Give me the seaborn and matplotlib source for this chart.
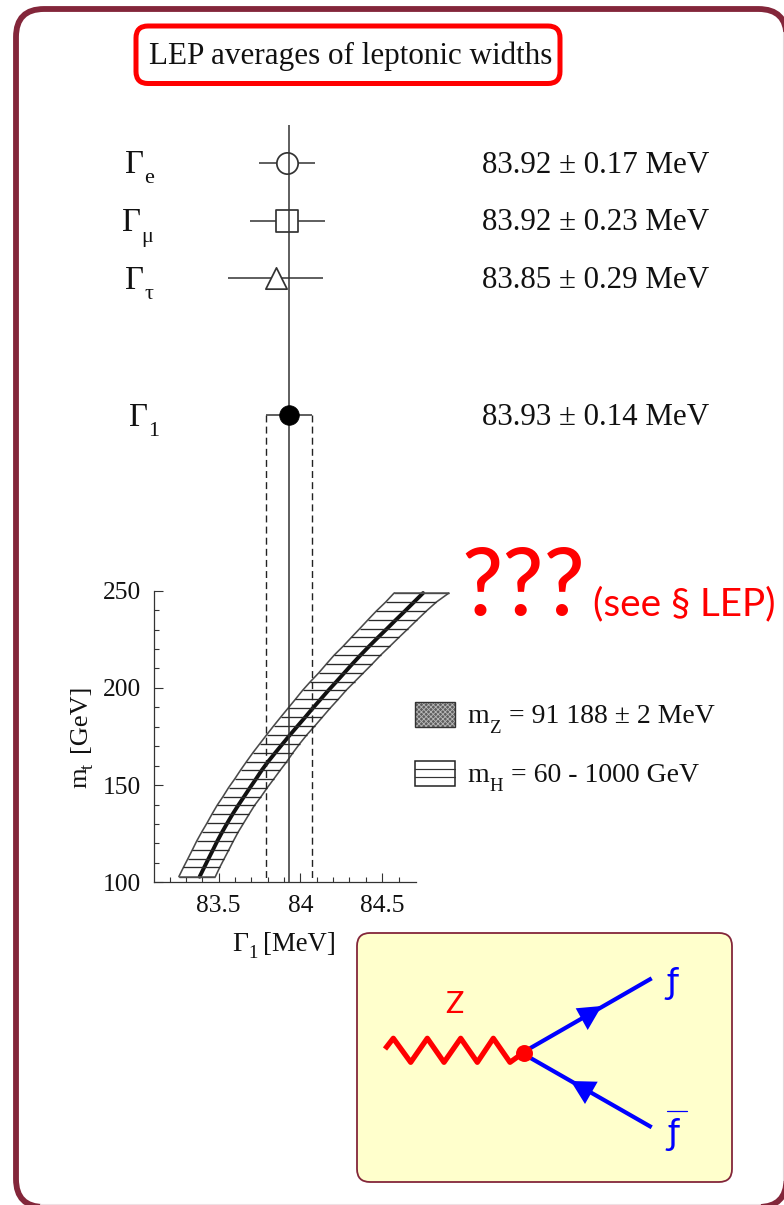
import numpy as np
import matplotlib
matplotlib.use("Agg")
import matplotlib.pyplot as plt
from matplotlib.patches import FancyBboxPatch, Rectangle, Polygon
import seaborn as sns

# measurements (upper panel)
widths_mean = [83.92, 83.92, 83.85, 83.93]
widths_err = [0.17, 0.23, 0.29, 0.14]
widths_text = ["83.92 ± 0.17 MeV", "83.92 ± 0.23 MeV", "83.85 ± 0.29 MeV", "83.93 ± 0.14 MeV"]
widths_sub = ["e", "μ", "τ", "1"]
row_pos = [0, 1, 2, 4.38]

# band: one rung per horizontal hatch line
mt_rungs = [248.8, 244.2, 239.6, 235.1, 230.5, 226.0, 221.4, 216.8, 212.1, 207.7, 203.2,
            198.8, 194.1, 189.5, 185.0, 180.4, 175.9, 171.3, 166.7, 162.0, 157.8, 153.1,
            148.7, 144.0, 139.6, 135.0, 130.3, 125.9, 121.2, 116.6, 112.1, 107.7, 102.9]
band_left = [84.573, 84.522, 84.465, 84.414, 84.363, 84.312, 84.261, 84.206, 84.157, 84.112, 84.061,
             84.014, 83.969, 83.924, 83.880, 83.836, 83.794, 83.752, 83.710, 83.670, 83.635, 83.598,
             83.561, 83.526, 83.491, 83.459, 83.428, 83.397, 83.366, 83.339, 83.312, 83.285, 83.257]
band_right = [84.908, 84.832, 84.771, 84.715, 84.659, 84.603, 84.547, 84.490, 84.437, 84.385, 84.332,
              84.280, 84.231, 84.181, 84.135, 84.088, 84.040, 83.996, 83.955, 83.916, 83.878, 83.837,
              83.798, 83.759, 83.720, 83.686, 83.652, 83.620, 83.590, 83.562, 83.534, 83.507, 83.480]
band_mid = [84.750, 84.695, 84.640, 84.585, 84.530, 84.475, 84.420, 84.367, 84.315, 84.268, 84.220,
            84.172, 84.123, 84.075, 84.030, 83.983, 83.937, 83.892, 83.847, 83.802, 83.765, 83.728,
            83.692, 83.655, 83.620, 83.585, 83.552, 83.522, 83.492, 83.465, 83.438, 83.412, 83.384]

x_major = [83.5, 84, 84.5]
x_major_labels = ["83.5", "84", "84.5"]
y_major = [100, 150, 200, 250]

# feynman diagram, in picture pixels
wiggle_x = [385, 393.3, 410.7, 427.3, 444, 460.7, 477.3, 493.3, 510, 523]
wiggle_y = [1049, 1038.3, 1062.3, 1038.3, 1062.3, 1038.3, 1062.3, 1038.3, 1062.3, 1053]
fermion_x = [530, 651.7]
fermion_up_y = [1048.3, 978.3]
fermion_down_y = [1057.7, 1127.3]
arrow_up = [(575.7, 1008.3), (601.7, 1006), (587.7, 1030)]
arrow_down = [(570.7, 1081), (597.7, 1081.7), (585, 1104)]

FRAME = "#83263A"
INK = "#111111"
SERIF = ["Liberation Serif", "DejaVu Serif"]
SANS = ["Lato", "DejaVu Sans"]

sns.set_style("ticks")
plt.rcParams["font.family"] = SERIF
plt.rcParams["hatch.linewidth"] = 0.6

W, H = 784, 1205
fig = plt.figure(figsize=(W / 100, H / 100), dpi=100)

# full figure axes in pixels for the decoration and free text
bg = fig.add_axes([0, 0, 1, 1], zorder=0)
bg.set_xlim(0, W)
bg.set_ylim(H, 0)
bg.axis("off")


def px_axes(left, top, right, bottom, zorder):
    a = fig.add_axes([left / W, 1 - bottom / H, (right - left) / W, (bottom - top) / H], zorder=zorder)
    a.patch.set_visible(False)
    return a


def label(x, y, s, size, **kw):
    kw.setdefault("color", INK)
    kw.setdefault("va", "baseline")
    bg.text(x, y, s, fontsize=size, **kw)


bg.add_patch(FancyBboxPatch((16, 9), 770.5, 1198, boxstyle="round,pad=0,rounding_size=28",
                            fc="white", ec=FRAME, lw=4.2))
bg.plot([783.5, 783.5], [32, 1180], color="#e6d6da", lw=0.8)
bg.plot([40, 760], [1204.4, 1204.4], color="#efe0e4", lw=0.8)

bg.add_patch(FancyBboxPatch((136, 26), 424, 57.5, boxstyle="round,pad=0,rounding_size=12",
                            fc="white", ec="#FF0000", lw=3.6))
label(149, 64, "LEP averages of leptonic widths", 22.45)

# upper panel shares the lower panel's x scale
xlim = (83.105, 84.705)
ax_top = px_axes(154, 125, 415.7, 882.3, 3)
ax_top.set_xlim(*xlim)
ax_top.set_ylim(12.51, -0.661)
ax_top.axis("off")

ax_top.axvline(widths_mean[3], color="#333333", lw=1.1, zorder=5)
ax_top.vlines([widths_mean[3] - widths_err[3], widths_mean[3] + widths_err[3]], row_pos[3], 12.51,
              color="#222222", lw=1.0, linestyles=(0, (5, 3)), zorder=2)
ax_top.hlines(row_pos, np.array(widths_mean) - np.array(widths_err), np.array(widths_mean) + np.array(widths_err),
              color="#333333", lw=1.1, zorder=2)

row_markers = ["o", "s", "^"]
for i, m in enumerate(row_markers):
    sns.scatterplot(x=[widths_mean[i]], y=[row_pos[i]], marker=m, s=235, color="white",
                    edgecolor="#333333", linewidth=1.25, ax=ax_top, zorder=3, clip_on=False)
sns.scatterplot(x=[widths_mean[3]], y=[row_pos[3]], marker="o", s=200, color="black",
                edgecolor="black", linewidth=0.5, ax=ax_top, zorder=6)
ax_top.axis("off")

name_pos = [(125.2, 172.7, 144.3, 182.7), (122.5, 231, 141.7, 241.7),
            (125.2, 289.3, 144.3, 299.3), (128.7, 425.7, 148.3, 436)]
text_base = [173, 230, 288, 425]
for (gx, gy, sx, sy), sub, txt, by in zip(name_pos, widths_sub, widths_text, text_base):
    label(gx, gy, "Γ", 23.5)
    label(sx, sy, sub, 16)
    label(482, by, txt, 22.3)

# lower panel
ax = px_axes(154, 590.7, 415.7, 882.3, 2)
sns.lineplot(x=band_left, y=mt_rungs, sort=False, estimator=None, color="#4a4a4a", lw=1.15, ax=ax, clip_on=False)
sns.lineplot(x=band_right, y=mt_rungs, sort=False, estimator=None, color="#4a4a4a", lw=1.15, ax=ax, clip_on=False)
sns.lineplot(x=band_mid, y=mt_rungs, sort=False, estimator=None, color="#111111", lw=2.8, ax=ax, clip_on=False)
ax.hlines(mt_rungs, band_left, band_right, color="#2a2a2a", lw=0.95, clip_on=False)
ax.hlines([mt_rungs[0], mt_rungs[-1]], [band_left[0], band_left[-1]], [band_right[0], band_right[-1]],
          color="#555555", lw=1.1, clip_on=False)

ax.set_xlim(*xlim)
ax.set_ylim(100, 250)
ax.set_xticks(x_major)
ax.set_xticklabels(x_major_labels)
ax.set_yticks(y_major)
ax.set_xticks(np.arange(83.2, 84.7, 0.1), minor=True)
ax.set_yticks(np.arange(110, 250, 10), minor=True)
ax.tick_params(which="major", direction="in", length=6.5, width=0.8, color="#333333", labelsize=18.4, labelcolor=INK, pad=9)
ax.tick_params(which="minor", direction="in", length=3.7, width=0.8, color="#333333")
sns.despine(ax=ax)
for s in ("left", "bottom"):
    ax.spines[s].set_linewidth(0.9)
    ax.spines[s].set_color("#333333")

# axis titles carry subscripts, so they are placed by hand
bg.text(86.5, 788, "m", fontsize=19, rotation=90, rotation_mode="anchor", color=INK, va="baseline", ha="left")
bg.text(92.5, 769, "t", fontsize=13, rotation=90, rotation_mode="anchor", color=INK, va="baseline", ha="left")
bg.text(86.5, 752, "[GeV]", fontsize=19, rotation=90, rotation_mode="anchor", color=INK, va="baseline", ha="left")
label(232, 950.7, "Γ", 20)
label(248, 958, "1", 13.5)
label(263, 950.7, "[MeV]", 19.3)

# legend
bg.add_patch(Rectangle((415, 702), 40, 25, fc="#5e5e5e", ec="#b8b8b8", hatch="xxxxxxx", lw=0))
bg.add_patch(Rectangle((415, 702), 40, 25, fc="none", ec="#333333", lw=1.0))
bg.add_patch(Rectangle((415, 761), 40, 25, fc="white", ec="#222222", lw=1.1))
bg.plot([415, 455], [769.3, 769.3], color="#333333", lw=0.85)
bg.plot([415, 455], [777.3, 777.3], color="#333333", lw=0.85)
label(467.7, 723, "m", 20)
label(489.3, 732.7, "Z", 13.5)
label(509, 723, "= 91 188 ± 2 MeV", 19.95)
label(467.7, 781.7, "m", 20)
label(489.3, 790.7, "H", 13.5)
label(510.7, 781.7, "= 60 - 1000 GeV", 19.95)

# red note
label(461, 615, "???", 66, color="#FF0000", family=SANS, fontweight="medium")
label(593, 615, "(see § LEP)", 27.8, color="#FF0000", family=SANS)

# Z decay diagram
bg.add_patch(FancyBboxPatch((357, 933), 375, 249, boxstyle="round,pad=0,rounding_size=13",
                            fc="#FFFFCC", ec=FRAME, lw=1.3))
bg.plot(fermion_x, fermion_up_y, color="#0000FF", lw=3.0, solid_capstyle="butt")
bg.plot(fermion_x, fermion_down_y, color="#0000FF", lw=3.0, solid_capstyle="butt")
bg.add_patch(Polygon(arrow_up, fc="#0000FF", ec="none"))
bg.add_patch(Polygon(arrow_down, fc="#0000FF", ec="none"))
bg.plot(wiggle_x, wiggle_y, color="#FF0000", lw=3.8, solid_joinstyle="round", solid_capstyle="butt")
bg.plot([524], [1052.7], "o", color="#FF0000", ms=12.2, mew=0)
label(454, 1013, "Z", 22, color="#FF0000", family=SANS, ha="center")
label(673, 993, "ƒ", 26, color="#0000FF", family=SANS, ha="center")
label(674, 1144, "ƒ", 26, color="#0000FF", family=SANS, ha="center")
bg.plot([667.3, 686.7], [1111, 1111], color="#0000FF", lw=0.9)

fig.savefig("out.png", dpi=100)
